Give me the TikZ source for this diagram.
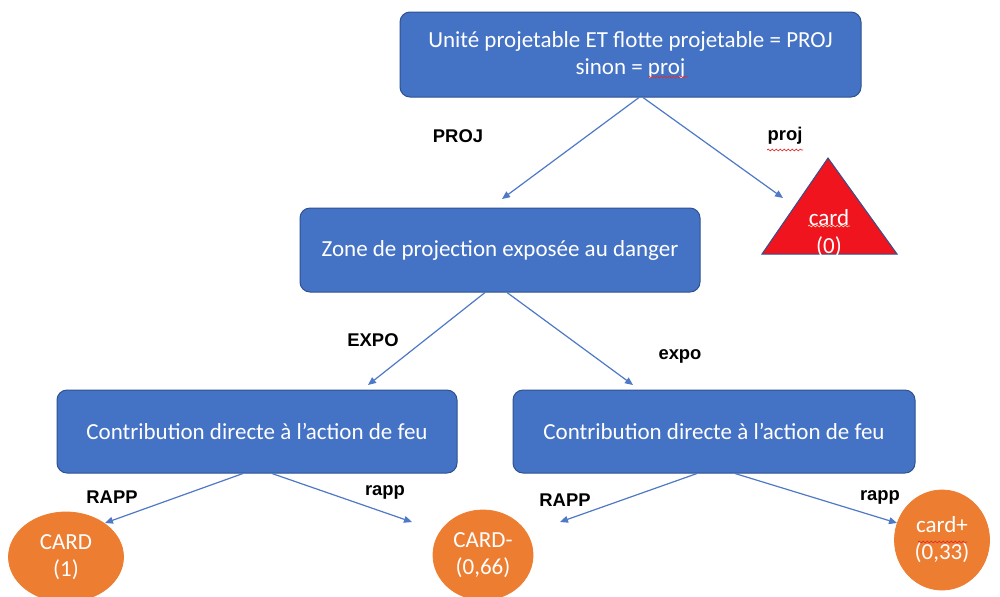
\documentclass[tikz,border=0pt]{standalone}
\usepackage{fontspec}
\setmainfont{Carlito}
\newfontfamily\lblfont{Liberation Sans}
\usetikzlibrary{arrows.meta,shapes.geometric,decorations.pathmorphing}
\definecolor{boxblue}{HTML}{4472C4}
\definecolor{boxedge}{HTML}{2F528F}
\definecolor{arrowblue}{HTML}{4E79C6}
\definecolor{leaforange}{HTML}{ED7D31}
\definecolor{trired}{HTML}{F0141E}
\definecolor{spellred}{HTML}{E03030}
\definecolor{spelllight}{HTML}{F8D0B0}
\tikzset{
  boxnode/.style={draw=boxedge, line width=0.5pt, fill=boxblue, rounded corners=5pt,
    text=white, align=center, inner sep=0pt,
    font=\fontsize{11.5}{13.5}\selectfont},
  leaf/.style={ellipse, fill=leaforange, draw=leaforange, text=white, align=center,
    inner sep=0pt, font=\fontsize{11.5}{13.5}\selectfont},
  tritext/.style={text=white, align=center, inner sep=0pt,
    font=\fontsize{11.5}{14}\selectfont},
  lbl/.style={font=\lblfont\bfseries\fontsize{9.2}{11}\selectfont, text=black, inner sep=0pt},
  arr/.style={draw=arrowblue, line width=0.6pt, -{Triangle[length=4pt,width=3.4pt]}},
  spell/.style={line width=0.35pt,
    decorate, decoration={snake, segment length=2pt, amplitude=0.45pt}}
}
\begin{document}
\begin{tikzpicture}[x=0.5pt,y=-0.5pt]
\useasboundingbox[fill=white] (0,0) rectangle (1000,596);
\clip (0,0) rectangle (1000,596);

% boxes
\node[boxnode, minimum width=230.5pt, minimum height=42.5pt] (top) at (630.5,54.5)
  {Unité projetable ET flotte projetable = PROJ\\sinon = proj};
\node[boxnode, minimum width=200pt, minimum height=42pt] (mid) at (500,250)
  {Zone de projection exposée au danger};
\node[boxnode, minimum width=200pt, minimum height=41.5pt] (bl) at (257,431.5)
  {Contribution directe à l’action de feu};
\node[boxnode, minimum width=201pt, minimum height=41.5pt] (br) at (714,431.5)
  {Contribution directe à l’action de feu};

% triangle leaf
\fill[trired] (828,158) -- (897,254) -- (762,254) -- cycle;
\draw[boxedge, line width=0.5pt] (828,158) -- (897,254) -- (762,254) -- cycle;
\node[tritext] (tri) at (829,233) {card\\(0)};

% ellipse leaves
\node[leaf, minimum width=57.5pt, minimum height=45pt] (l1) at (66,557) {CARD\\(1)};
\node[leaf, minimum width=50pt, minimum height=45pt] (l2) at (483,555) {CARD-\\(0,66)};
\node[leaf, minimum width=47.5pt, minimum height=50pt] (l3) at (942,540) {card+\\(0,33)};

% arrow end points
\coordinate (p1) at (502,199);
\coordinate (p2) at (783,198);
\coordinate (e1) at (368,385);
\coordinate (e2) at (633,385);
\coordinate (r1) at (105,523);
\coordinate (r2) at (412,522);
\coordinate (r3) at (560,522);
\coordinate (r4) at (897,523);

% connectors
\draw[arr] ([xshift=4.25pt]top.south) -- (p1);
\draw[arr] ([xshift=6.25pt]top.south) -- (p2);
\draw[arr] ([xshift=-7.5pt]mid.south) -- (e1);
\draw[arr] ([xshift=3.5pt]mid.south) -- (e2);
\draw[arr] ([xshift=-7pt]bl.south) -- (r1);
\draw[arr] ([xshift=7.5pt]bl.south) -- (r2);
\draw[arr] ([xshift=-8.5pt]br.south) -- (r3);
\draw[arr] ([xshift=10.5pt]br.south) -- (r4);

% labels
\node[lbl] (lPROJ) at (458,136) {PROJ};
\node[lbl] (lproj) at (785,136) {proj};
\node[lbl] (lEXPO) at (373,340) {EXPO};
\node[lbl] (lexpo) at (680,356) {expo};
\node[lbl] (lRAPP1) at (112,497) {RAPP};
\node[lbl] (lrapp1) at (385,492) {rapp};
\node[lbl] (lRAPP2) at (565,500) {RAPP};
\node[lbl] (lrapp2) at (880,497) {rapp};

% spell-check underlines
\draw[spell, draw=spellred] (648,77) -- (688,77);
\draw[spell, draw=spellred] (767,150) -- (803,150);
\draw[spell, draw=spelllight] (808,226) -- (850,226);
\draw[spell, draw=spellred] (918,542) -- (967,542);
\end{tikzpicture}
\end{document}
